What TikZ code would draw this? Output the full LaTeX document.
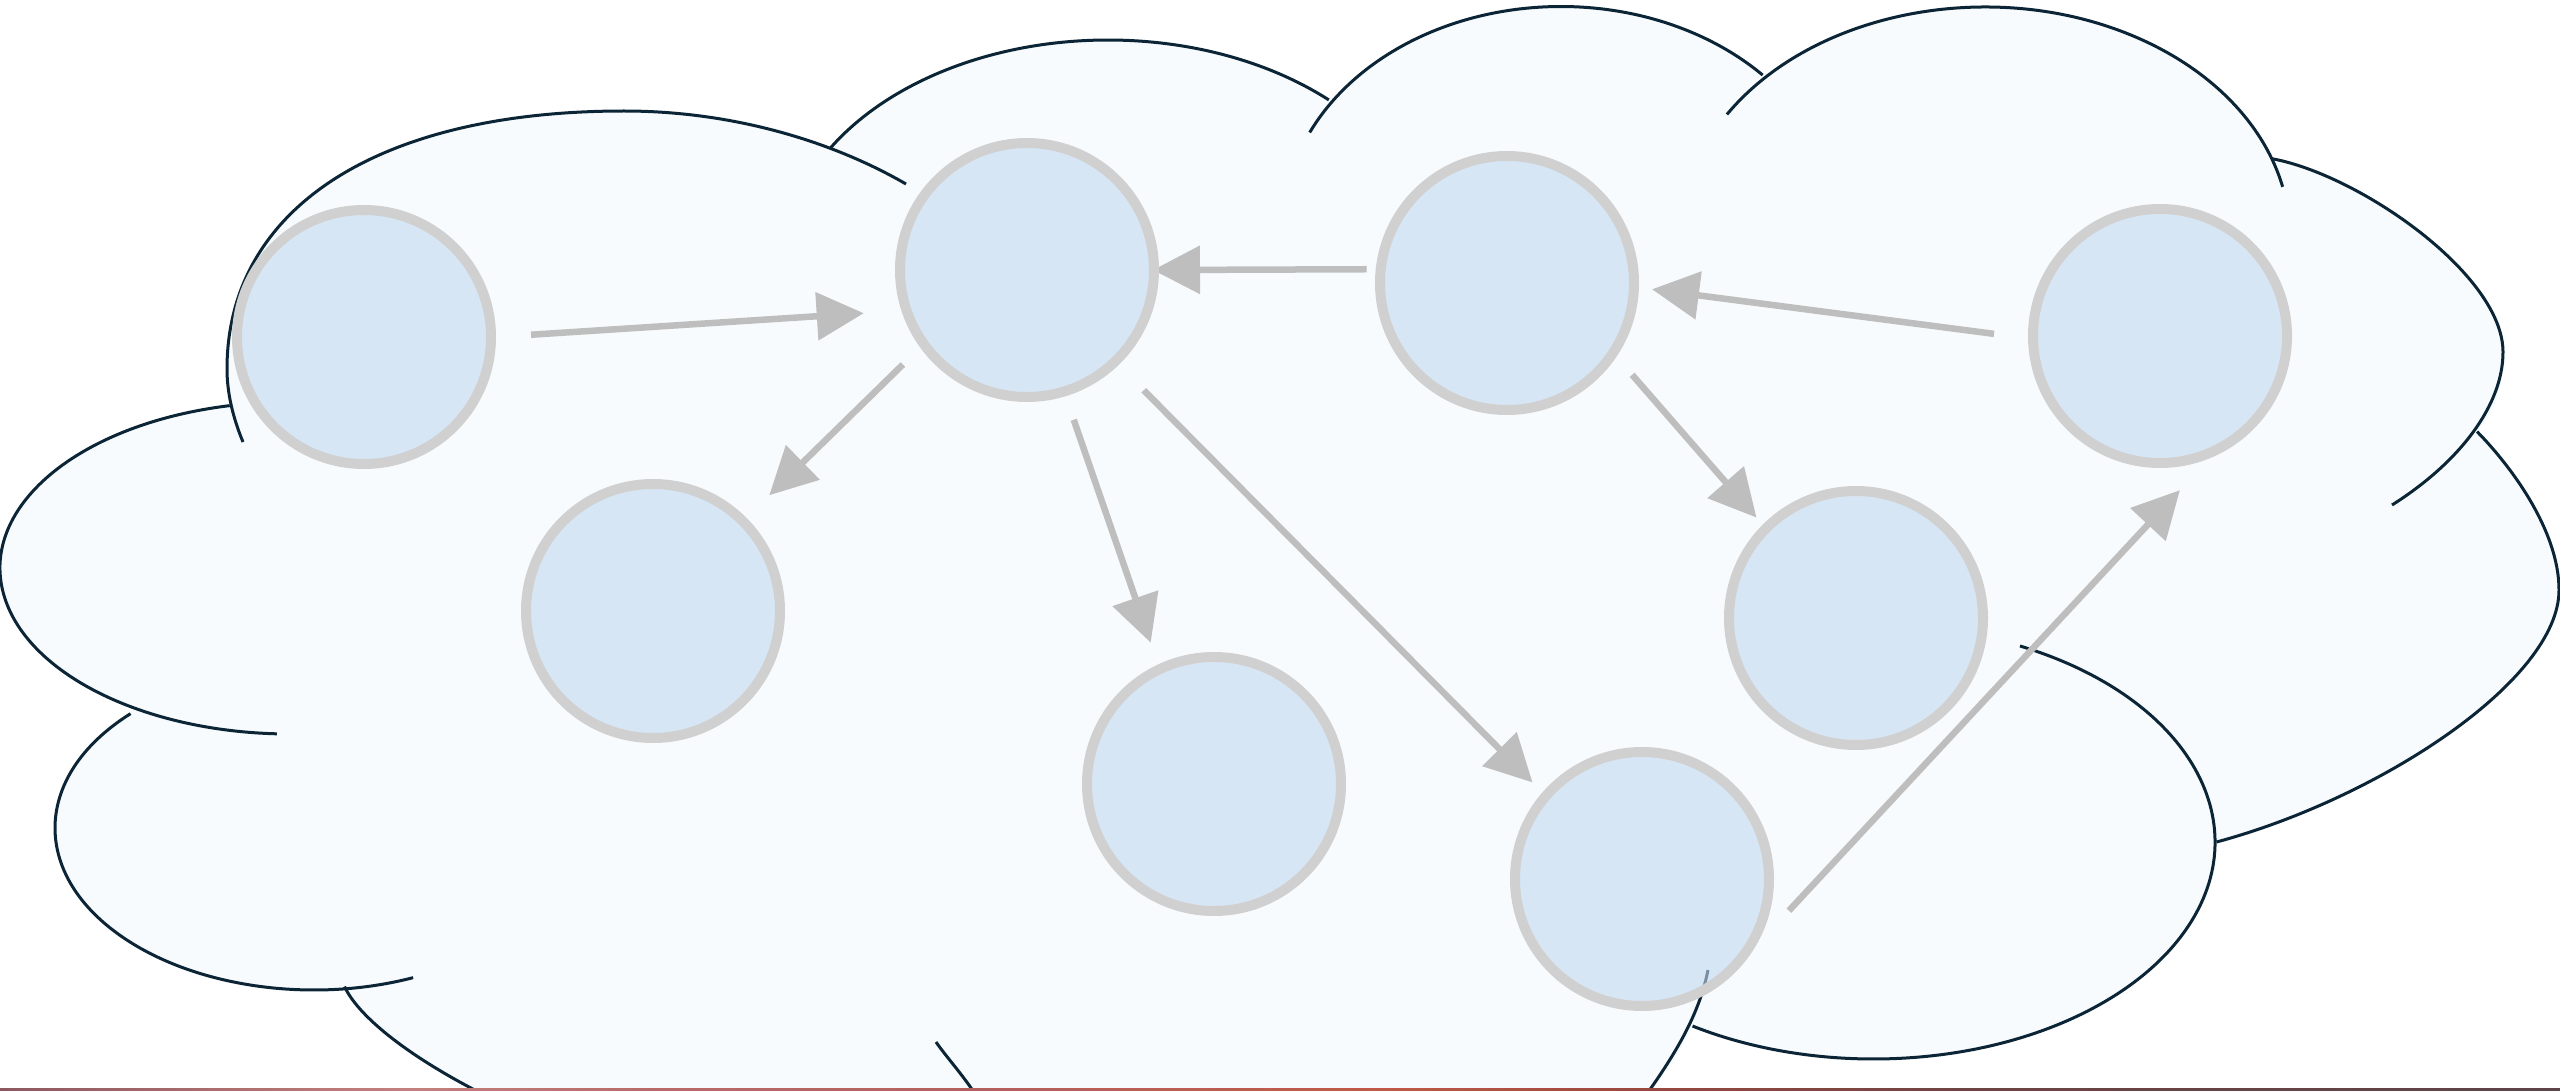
\documentclass[tikz,border=0pt]{standalone}
\usetikzlibrary{arrows.meta}
\definecolor{cloudfill}{RGB}{247,251,253}
\definecolor{cloudline}{RGB}{12,37,54}
\definecolor{circfill}{RGB}{194,216,238}
\definecolor{circborder}{RGB}{208,208,208}
\definecolor{arrowgray}{RGB}{190,190,190}
\definecolor{sa}{RGB}{140,88,96}
\definecolor{sb}{RGB}{176,112,112}
\definecolor{sc}{RGB}{196,128,128}
\definecolor{sd}{RGB}{184,106,106}
\definecolor{se}{RGB}{180,96,96}
\definecolor{sf}{RGB}{192,90,72}
\definecolor{sg}{RGB}{154,72,64}
\definecolor{sh}{RGB}{110,68,68}
\definecolor{si}{RGB}{92,68,72}
\pgfdeclarehorizontalshading{bottomstrip}{100bp}{color(0bp)=(sa); color(25bp)=(sa); color(29.8bp)=(sb); color(33bp)=(sc); color(37.75bp)=(sd); color(44bp)=(se); color(52bp)=(sf); color(57bp)=(sg); color(63.5bp)=(sh); color(75bp)=(si); color(100bp)=(si)}
\tikzset{
  circ/.style={circle, draw=circborder, line width=10pt, fill=circfill, fill opacity=0.6, minimum size=254pt, inner sep=0pt},
  arr/.style={draw=arrowgray, line width=6.5pt, -{Triangle[length=47pt,width=47pt]}},
  cl/.style={draw=cloudline, line width=3pt}
}
\begin{document}
\begin{tikzpicture}[x=1pt,y=-1pt]
\useasboundingbox (0,0) rectangle (2560,1091);
\fill[white] (0,0) rectangle (2560,1091);
\begin{scope}
\clip (0,0) rectangle (2560,1088.5);
% cloud fill
\fill[cloudfill]
  ([shift={(290,568)}]258:290 and 166) arc[start angle=258, end angle=122.8, x radius=290, y radius=166]
  -- ([shift={(314,828)}]224.9:259 and 162) arc[start angle=224.9, end angle=83, x radius=259, y radius=162]
  -- (345,988) .. controls (360,1020) and (420,1065) .. (505,1105)
  -- (505,1115) -- (1635,1115) -- (1635,1110)
  .. controls (1665,1075) and (1682,1050) .. (1692,1026.5)
  -- ([shift={(1873.5,842)}]122:341.5 and 217) arc[start angle=122, end angle=0, x radius=341.5, y radius=217]
  -- (2216.5,842) .. controls (2380,798) and (2559,680) .. (2559,590)
  .. controls (2559,530) and (2510,465) .. (2477,431.6)
  .. controls (2500,405) and (2503,380) .. (2503,352)
  .. controls (2503,275) and (2360,175) .. (2272,158.7)
  -- ([shift={(1985,237)}]-19.9:305 and 230) arc[start angle=-19.9, end angle=-134.6, x radius=305, y radius=230]
  -- ([shift={(1561,226.5)}]-43.5:278 and 220) arc[start angle=-43.5, end angle=-144.8, x radius=278, y radius=220]
  -- ([shift={(1108,265)}]-47.2:325 and 225) arc[start angle=-47.2, end angle=-148.5, x radius=325, y radius=225]
  -- (831,147.5) .. controls (760,118) and (700,111) .. (624,111)
  .. controls (378,111) and (227,208.4) .. (227,369)
  .. controls (227,385) and (228,395) .. (230,405) -- cycle;
% cloud outlines (puffs)
\draw[cl] (243,442) .. controls (233,418) and (227,393) .. (227,369)
  .. controls (227,208.4) and (378,111) .. (624,111)
  .. controls (730,111) and (830,140) .. (906,184);
\draw[cl] ([shift={(1108,265)}]-148.5:325 and 225) arc[start angle=-148.5, end angle=-47.2, x radius=325, y radius=225];
\draw[cl] ([shift={(1561,226.5)}]-154.7:278 and 220) arc[start angle=-154.7, end angle=-43.5, x radius=278, y radius=220];
\draw[cl] ([shift={(1985,237)}]-147.8:305 and 230) arc[start angle=-147.8, end angle=-12.6, x radius=305, y radius=230];
\draw[cl] (2272,158.7) .. controls (2360,175) and (2503,275) .. (2503,352)
  .. controls (2503,405) and (2460,462) .. (2392,505);
\draw[cl] (2216.5,842) .. controls (2380,798) and (2559,680) .. (2559,590)
  .. controls (2559,530) and (2510,465) .. (2477,431.6);
\draw[cl] ([shift={(1873.5,842)}]-64.6:341.5 and 217) arc[start angle=-64.6, end angle=122, x radius=341.5, y radius=217];
\draw[cl] (1708,970) .. controls (1700,1010) and (1680,1050) .. (1635,1110);
\draw[cl] (936,1042) .. controls (950,1062) and (968,1080) .. (985,1110);
\draw[cl] (344.5,986.5) .. controls (360,1020) and (420,1065) .. (505,1105);
\draw[cl] ([shift={(314,828)}]224.9:259 and 162) arc[start angle=224.9, end angle=67.5, x radius=259, y radius=162];
\draw[cl] ([shift={(290,568)}]258:290 and 166) arc[start angle=258, end angle=92.6, x radius=290, y radius=166];
% node positions
\coordinate (p1) at (364,337);
\coordinate (p2) at (1027,270);
\coordinate (p3) at (1507,283);
\coordinate (p4) at (2160,336);
\coordinate (p5) at (653,611);
\coordinate (p6) at (1856,618);
\coordinate (p7) at (1214,784);
\coordinate (p8) at (1642,879);
% invisible anchors for arrows (same size as circles)
\foreach \i in {1,...,8} {\node[circle, minimum size=254pt, inner sep=0pt, line width=10pt, outer sep=5pt] (a\i) at (p\i) {};}
% arrows
\draw[arr, shorten <=35.1pt, shorten >=37.8pt] (a1.-0.6) -- (a2.198.3);
\draw[arr, shorten <=9pt, shorten >=-6pt] (a3.174.8) -- (a2.-0.4);
\draw[arr, shorten <=34.3pt, shorten >=13.2pt] (a4.181.5) -- (a3.-2.3);
\draw[arr, shorten <=24.2pt, shorten >=32.1pt] (a2.216.9) -- (a5.45.3);
\draw[arr, shorten <=24.9pt, shorten >=23pt] (a2.-73.3) -- (a7.115.35);
\draw[arr, shorten <=35.6pt, shorten >=14pt] (a2.-46.5) -- (a8.139.3);
\draw[arr, shorten <=23.9pt, shorten >=9.4pt] (a3.-34.9) -- (a6.135.3);
\draw[arr, shorten <=49.6pt, shorten >=43.4pt] (a8.-31.7) -- (a4.-68.9);
% circles
\node[circ] (c1) at (p1) {};
\node[circ] (c2) at (p2) {};
\node[circ] (c3) at (p3) {};
\node[circ] (c4) at (p4) {};
\node[circ] (c5) at (p5) {};
\node[circ] (c6) at (p6) {};
\node[circ] (c7) at (p7) {};
\node[circ] (c8) at (p8) {};
\end{scope}
\shade[shading=bottomstrip] (0,1088.5) rectangle (2560,1091);
\end{tikzpicture}
\end{document}
